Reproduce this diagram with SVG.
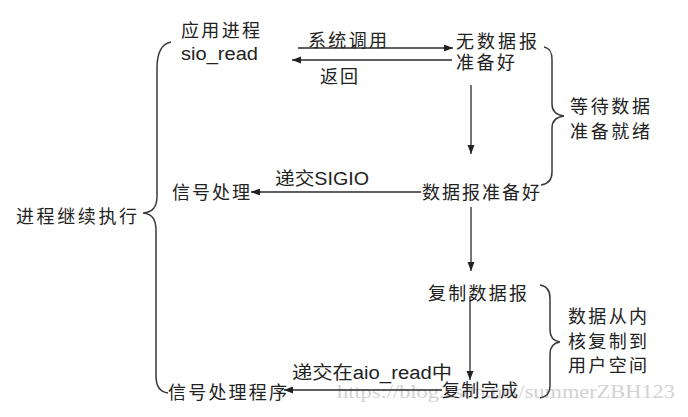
<svg xmlns="http://www.w3.org/2000/svg" width="688" height="417" viewBox="0 0 688 417">
<defs>
<marker id="ah" markerWidth="10" markerHeight="8" refX="9" refY="4" orient="auto" markerUnits="userSpaceOnUse">
<path d="M0,0.5 L9,4 L0,7.5 Z" fill="#222"/>
</marker>
<style>
text{font-family:"Liberation Sans","Noto Sans CJK SC",sans-serif;font-size:18px;fill:#222}
.wm{font-family:"Liberation Serif",serif;fill:#d2d2d2;font-size:19px}
.ln{stroke:#2a2a2a;stroke-width:1.3;fill:none}
.br{stroke:#3a3a3a;stroke-width:1.5;fill:none}
</style>
</defs>
<rect width="688" height="417" fill="#fff"/>
<text class="wm" x="337" y="398" textLength="338" lengthAdjust="spacingAndGlyphs">https://blog.csdn.net/summerZBH123</text>
<g id="connectors">
<path class="ln" d="M298,48 H453" marker-end="url(#ah)"/>
<path class="ln" d="M452,60 H292" marker-end="url(#ah)"/>
<path class="ln" d="M471,85 V154" marker-end="url(#ah)"/>
<path class="ln" d="M421,192 H251" marker-end="url(#ah)"/>
<path class="ln" d="M471,207 V271" marker-end="url(#ah)"/>
<path class="ln" d="M470,296 V380" marker-end="url(#ah)"/>
<path class="ln" d="M442,390 H284" marker-end="url(#ah)"/>
<text x="308" y="47" textLength="79" lengthAdjust="spacing">系统调用</text>
<text x="320" y="83" textLength="38" lengthAdjust="spacing">返回</text>
<text x="275" y="185" textLength="94" lengthAdjust="spacingAndGlyphs">递交SIGIO</text>
<text x="292" y="379" textLength="160" lengthAdjust="spacingAndGlyphs">递交在aio_read中</text>
</g>
<g id="app">
<text x="181" y="37" textLength="79" lengthAdjust="spacing">应用进程</text>
<text x="181" y="60" font-size="19" textLength="77" lengthAdjust="spacingAndGlyphs">sio_read</text>
</g>
<g id="nodata">
<text x="456" y="48" textLength="81" lengthAdjust="spacing">无数据报</text>
<text x="456" y="69" textLength="59" lengthAdjust="spacing">准备好</text>
</g>
<g id="ready">
<text x="422" y="199" textLength="118" lengthAdjust="spacing">数据报准备好</text>
</g>
<g id="signal">
<text x="172" y="199" textLength="78" lengthAdjust="spacing">信号处理</text>
</g>
<g id="copy">
<text x="428" y="300" textLength="99" lengthAdjust="spacing">复制数据报</text>
</g>
<g id="done">
<text x="442" y="397" textLength="76" lengthAdjust="spacing">复制完成</text>
</g>
<g id="handler">
<text x="168" y="399" textLength="119" lengthAdjust="spacing">信号处理程序</text>
</g>
<g id="continue">
<path class="br" d="M171,42 C161,44 157,53 157,68 V196 C157,207 153,212 143,213 C153,214 156,220 156,231 V376 C156,387 160,392 168,393"/>
<text x="16" y="223" textLength="121" lengthAdjust="spacing">进程继续执行</text>
</g>
<g id="wait">
<path class="br" d="M544,47 C550,48 552,52 552,60 V104 C552,111 556,115 564,116 C556,117 552,121 552,128 V172 C552,180 548,184 541,185"/>
<text x="570" y="113" textLength="80" lengthAdjust="spacing">等待数据</text>
<text x="570" y="138" textLength="80" lengthAdjust="spacing">准备就绪</text>
</g>
<g id="copyspan">
<path class="br" d="M540,285 C547,286 550,290 550,298 V330 C550,337 553,341 560,342 C553,343 550,347 550,354 V386 C550,394 546,397 540,398"/>
<text x="568" y="323" textLength="79" lengthAdjust="spacing">数据从内</text>
<text x="568" y="348" textLength="79" lengthAdjust="spacing">核复制到</text>
<text x="568" y="372" textLength="79" lengthAdjust="spacing">用户空间</text>
</g>
</svg>
